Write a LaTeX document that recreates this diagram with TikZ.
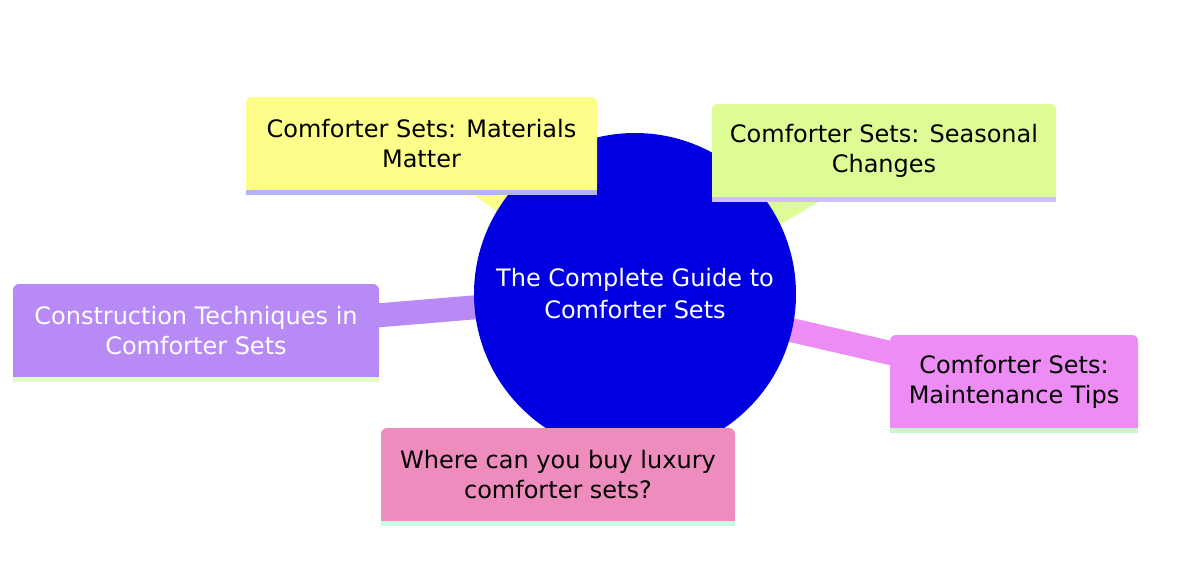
\documentclass[tikz,border=0pt]{standalone}
\usepackage{fontspec}
\setmainfont{DejaVu Sans}
\definecolor{rootc}{RGB}{0,0,224}
\definecolor{yelc}{RGB}{253,253,138}
\definecolor{yels}{RGB}{180,180,245}
\definecolor{grnc}{RGB}{222,252,150}
\definecolor{grns}{RGB}{208,192,248}
\definecolor{purc}{RGB}{183,138,245}
\definecolor{purs}{RGB}{226,252,200}
\definecolor{magc}{RGB}{238,140,245}
\definecolor{mags}{RGB}{200,247,200}
\definecolor{pnkc}{RGB}{238,140,190}
\definecolor{pnks}{RGB}{200,252,228}
\tikzset{
  leaf/.style={rectangle, rounded corners=6pt, minimum height=93pt, align=center,
    inner sep=0pt, font=\fontsize{24}{30}\selectfont, text=black},
  link/.style={line width=24pt},
}
\begin{document}
\begin{tikzpicture}[x=1pt,y=-1pt]
\useasboundingbox (0,0) rectangle (1200,571);
% coordinates for node centres
\coordinate (rc) at (635,294);
% connectors (behind)
\coordinate (yc) at (421.5,143.5);
\coordinate (gc) at (884,150.5);
\coordinate (pc) at (196,330.5);
\coordinate (mc) at (1014,381.5);
\coordinate (kc) at (558,474.5);
\draw[link, yelc] (rc) -- (yc);
\draw[link, grnc] (rc) -- (gc);
\draw[link, purc] (rc) -- (pc);
\draw[link, magc] (rc) -- (mc);
\draw[link, pnkc] (rc) -- (kc);
% root
\node[circle, fill=rootc, minimum size=322pt, inner sep=0pt, align=center,
  text=white, font=\fontsize{24}{32}\selectfont] (root) at (rc)
  {The Complete Guide to\\Comforter Sets};
% leaves
\node[leaf, fill=yelc, minimum width=351pt] (mat) at (yc)
  {Comforter Sets: Materials\\Matter};
\node[leaf, fill=grnc, minimum width=344pt] (sea) at (gc)
  {Comforter Sets: Seasonal\\Changes};
\node[leaf, fill=purc, minimum width=366pt, text=white] (con) at (pc)
  {Construction Techniques in\\Comforter Sets};
\node[leaf, fill=magc, minimum width=248pt] (mai) at (mc)
  {Comforter Sets:\\Maintenance Tips};
\node[leaf, fill=pnkc, minimum width=354pt] (buy) at (kc)
  {Where can you buy luxury\\comforter sets?};
% square off bottom corners and add bottom strips
\foreach \n/\c/\s in {mat/yelc/yels, sea/grnc/grns, con/purc/purs, mai/magc/mags, buy/pnkc/pnks}{
  \fill[\c] (\n.south west) rectangle ([yshift=10pt]\n.south east);
  \fill[\s] (\n.south west) rectangle ([yshift=-5pt]\n.south east);
}
\end{tikzpicture}
\end{document}
